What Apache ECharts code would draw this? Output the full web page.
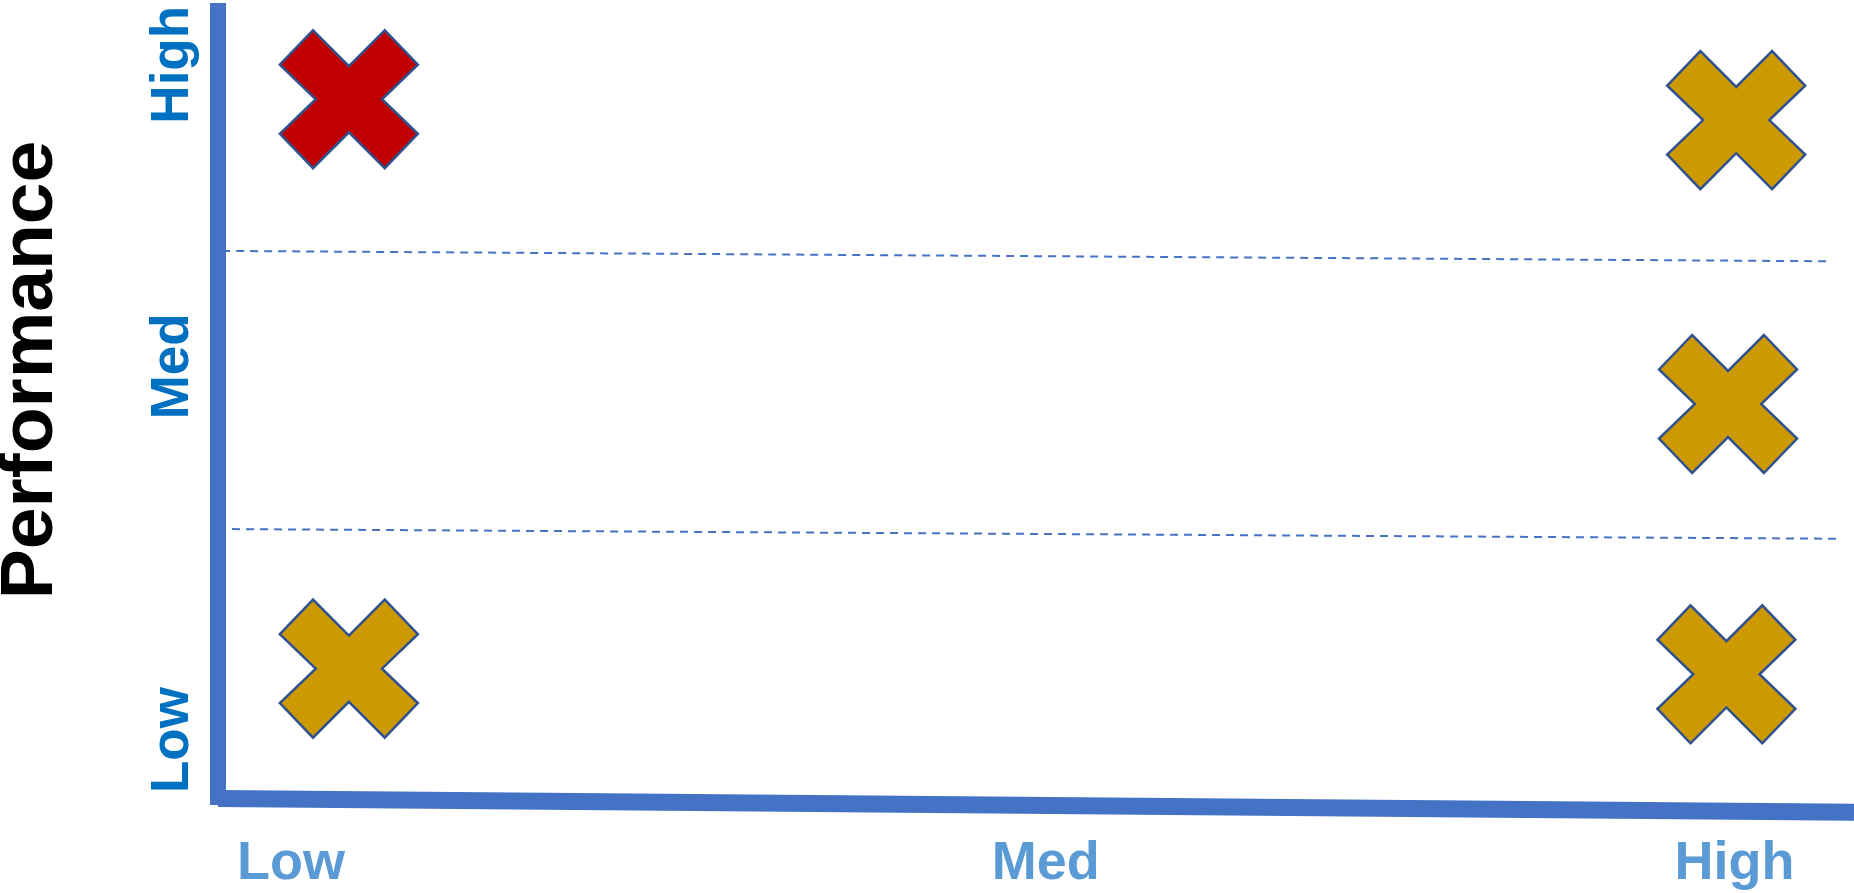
<!DOCTYPE html>
<html>
<head>
<meta charset="utf-8">
<style>
  html, body { margin: 0; padding: 0; background: #ffffff; }
  #chart { width: 1854px; height: 893px; }
</style>
<script src="https://cdn.jsdelivr.net/npm/echarts@6/dist/echarts.min.js"></script>
</head>
<body>
<div id="chart"></div>
<script>
// Positions on a 0–100 scale for both axes
const xTickValues = [4.46, 50.6, 92.7];
const xTickLabels = ['Low', 'Med', 'High'];
const yTickValues = [92.3, 54.7, 8.1];
const yTickLabels = ['High', 'Med', 'Low'];

// Items flagged in red and in gold
const redItems = [[8.0, 88.0]];
const goldItems = [[92.8, 85.4], [92.3, 50.0], [92.2, 16.3], [8.0, 17.0]];

// Band separators (slightly tilted) and the bottom axis line
const upperDivider = [[-0.6, 69.1], [98.35, 67.8]];
const lowerDivider = [[0.86, 34.4], [98.9, 33.2]];
const baseLine = [[0, 0.8], [100, -0.9]];

const crossPath = 'path://M0,25 L24,0 L50,26 L76,0 L100,25 L74,50 L100,75 L76,100 L50,74 L24,100 L0,75 L26,50 Z';
const FONT = '"Liberation Sans", Arial, sans-serif';

function labelFor(values, labels) {
  return function (v) {
    let best = 0, d = Infinity;
    values.forEach((t, i) => { const dd = Math.abs(t - v); if (dd < d) { d = dd; best = i; } });
    return labels[best];
  };
}

const chart = echarts.init(document.getElementById('chart'), null, { renderer: 'canvas' });

chart.setOption({
  animation: false,
  backgroundColor: '#ffffff',
  grid: { left: 218, right: 0, top: 3, bottom: 88, containLabel: false },
  xAxis: {
    type: 'value', min: 0, max: 100,
    axisLine: { show: false },
    axisTick: { show: false },
    splitLine: { show: false },
    axisLabel: {
      customValues: xTickValues,
      formatter: labelFor(xTickValues, xTickLabels),
      color: '#5B9BD5', fontSize: 54, fontWeight: 'bold', fontFamily: FONT,
      margin: 32
    }
  },
  yAxis: {
    type: 'value', min: 0, max: 100,
    axisLine: { show: true, lineStyle: { color: '#4472C4', width: 16, cap: 'butt' } },
    axisTick: { show: false },
    splitLine: { show: false },
    axisLabel: {
      customValues: yTickValues,
      formatter: labelFor(yTickValues, yTickLabels),
      rotate: 90,
      color: '#0070C0', fontSize: 53, fontWeight: 'bold', fontFamily: FONT,
      margin: 18
    }
  },
  graphic: [{
    type: 'text',
    x: 31, y: 370,
    rotation: Math.PI / 2,
    style: {
      text: 'Performance',
      font: 'bold 75px ' + FONT,
      fill: '#000000',
      align: 'center',
      verticalAlign: 'middle'
    }
  }],
  series: [
    {
      type: 'line', data: baseLine, clip: false, symbol: 'none', silent: true,
      lineStyle: { color: '#4472C4', width: 17, cap: 'butt' }, z: 1
    },
    {
      type: 'line', data: upperDivider, clip: false, symbol: 'none', silent: true,
      lineStyle: { color: '#4472C4', width: 2, type: [8, 6] }, z: 3
    },
    {
      type: 'line', data: lowerDivider, clip: false, symbol: 'none', silent: true,
      lineStyle: { color: '#4472C4', width: 2, type: [8, 6] }, z: 3
    },
    {
      type: 'scatter', data: redItems, symbol: crossPath, symbolSize: 138, symbolKeepAspect: true,
      itemStyle: { color: '#C00000', borderColor: '#2F528F', borderWidth: 2.5, opacity: 1 }, z: 4
    },
    {
      type: 'scatter', data: goldItems, symbol: crossPath, symbolSize: 138, symbolKeepAspect: true,
      itemStyle: { color: '#CC9900', borderColor: '#2F528F', borderWidth: 2.5, opacity: 1 }, z: 4
    }
  ]
});
</script>
</body>
</html>
